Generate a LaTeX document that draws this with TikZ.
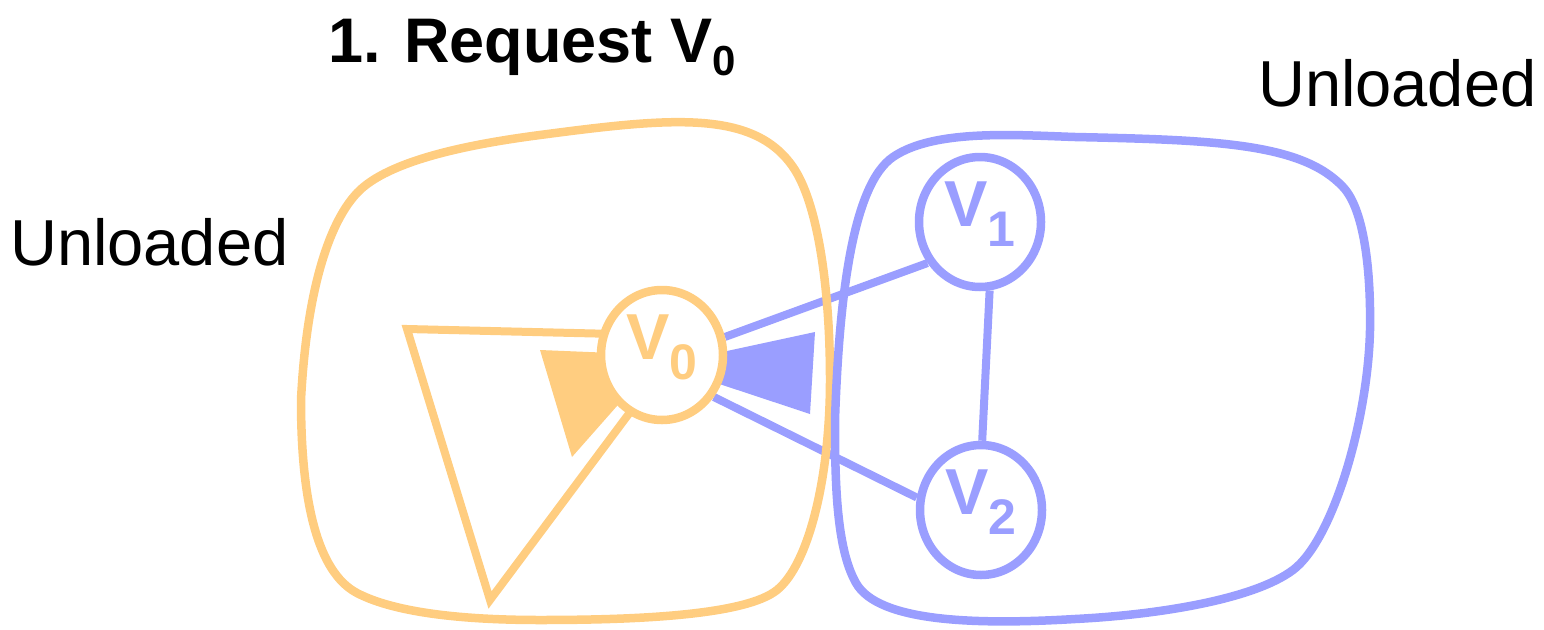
\documentclass[tikz,border=0pt]{standalone}
\usepackage{fontspec}
\setmainfont{Liberation Sans}
\usetikzlibrary{shapes.geometric,calc}
\pgfdeclarelayer{background}
\pgfsetlayers{background,main}
\definecolor{apricot}{RGB}{255,205,128}
\definecolor{periwinkle}{RGB}{154,158,255}
\tikzset{
  vertex/.style={ellipse, draw=#1, text=#1, fill=white, line width=8.5pt,
    minimum width=122pt, minimum height=130pt, inner sep=0pt,
    text height=28pt, text depth=20pt,
    font=\fontsize{65}{65}\selectfont\bfseries},
  blob/.style={draw=#1, line width=8.5pt},
  edge/.style={periwinkle, line width=8pt},
  caption/.style={inner sep=0pt, anchor=base west, font=\fontsize{65}{70}\selectfont},
}
\newcommand{\vsub}[1]{V\raisebox{-20pt}{\fontsize{50}{50}\selectfont #1}}
\begin{document}
\begin{tikzpicture}[x=1pt, y=-1pt]
  \useasboundingbox (0,0) rectangle (1544,629);

  % captions
  \node[caption, font=\fontsize{63}{70}\selectfont\bfseries] (title) at (328,62)
    {1. Request V\raisebox{-13pt}{\fontsize{42}{42}\selectfont 0}};
  \node[caption] (leftlbl) at (10,265) {Unloaded};
  \node[caption] (rightlbl) at (1258,106) {Unloaded};

  % vertices
  \node[vertex=apricot] (V0) at (662,355) {\vsub{0}};
  \node[vertex=periwinkle] (V1) at (980,222) {\vsub{1}};
  \node[vertex=periwinkle] (V2) at (981,510) {\vsub{2}};

  \begin{pgfonlayer}{background}
    % open wedge and filled wedge on the left of V0
    \draw[apricot, line width=8pt, line join=miter] ($(V0.center)+(-4,-20)$) -- (407,329) -- (490,600) -- ($(V0.center)+(-2,17)$);
    \fill[apricot] (540,350) -- (572,457) -- (V0.center) -- cycle;
    % filled wedge on the right of V0
    \fill[periwinkle] (815,332) -- (810,414) -- ($(V0.center)+(0,10)$) -- cycle;
    % edges
    \draw[edge] (V0.16) -- (V1.218);
    \draw[edge] (V0.321) -- (V2.169);
    \draw[edge] (V1.278) -- (V2.89);
  \end{pgfonlayer}

  % region around V0
  \draw[blob=apricot] (540,135)
    .. controls (669,118) and (753,109) .. (793,167)
    .. controls (816,200) and (830,280) .. (830,380)
    .. controls (830,480) and (808,565) .. (777,590)
    .. controls (746,615) and (640,620) .. (540,620)
    .. controls (470,620) and (397,614) .. (357,593)
    .. controls (317,572) and (301,500) .. (301,400)
    .. controls (306,300) and (326,226) .. (357,193)
    .. controls (388,160) and (471,144) .. (540,135) -- cycle;
  % region around V1 and V2
  \draw[blob=periwinkle] (1075,137)
    .. controls (1215,140) and (1302,143) .. (1343,187)
    .. controls (1364,209) and (1371,270) .. (1370,330)
    .. controls (1368,420) and (1333,540) .. (1293,570)
    .. controls (1253,600) and (1155,615) .. (1075,619)
    .. controls (975,625) and (878,622) .. (856,583)
    .. controls (836,548) and (835,480) .. (835,420)
    .. controls (839,300) and (852,185) .. (893,157)
    .. controls (934,129) and (1015,135) .. (1075,137) -- cycle;
\end{tikzpicture}
\end{document}
